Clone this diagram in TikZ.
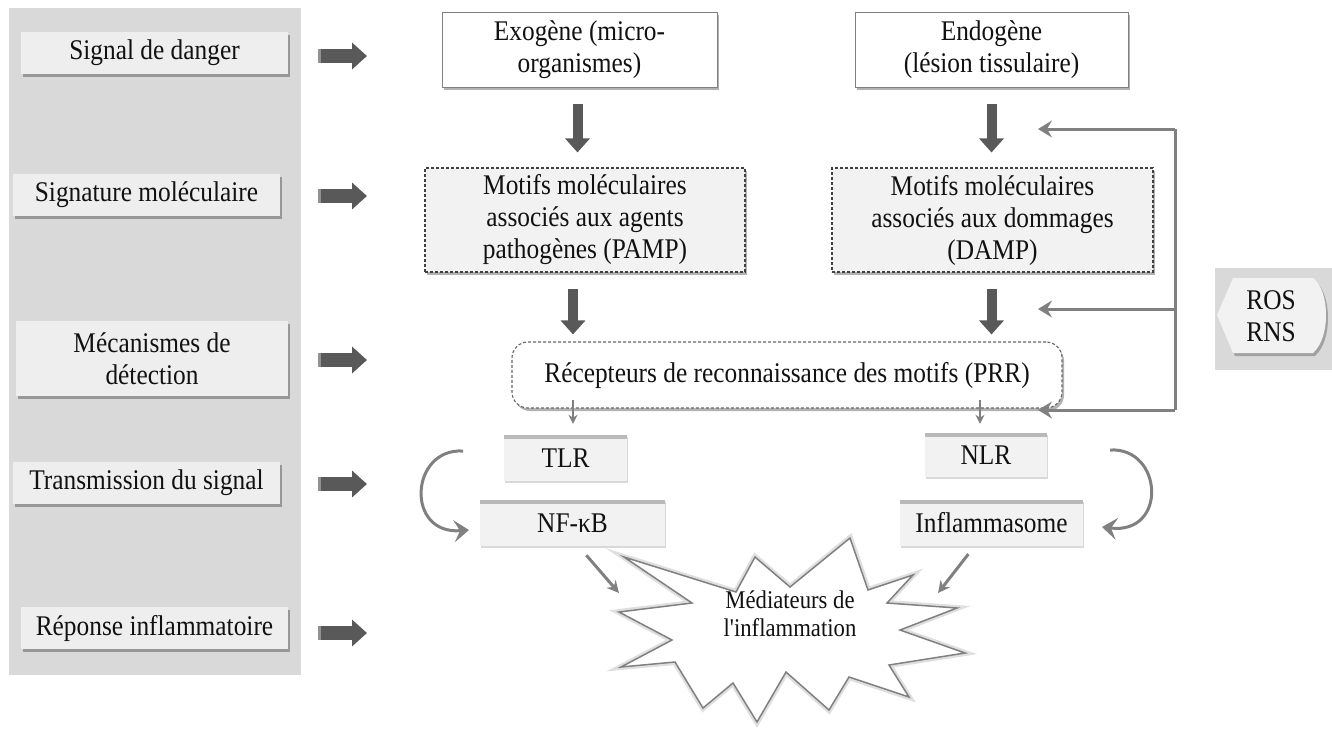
\documentclass[tikz,border=0pt]{standalone}
\usepackage{fontspec}
\setmainfont{Liberation Serif}[FakeStretch=0.89]
\newfontfamily\plainserif{Liberation Serif}[FakeStretch=0.89]
\usetikzlibrary{arrows.meta,shadows}
\definecolor{panel}{HTML}{D9D9D9}
\definecolor{boxfill}{HTML}{F2F2F2}
\definecolor{lboxfill}{HTML}{EEEEEE}
\definecolor{darkarrow}{HTML}{595959}
\definecolor{midgray}{HTML}{808080}
\definecolor{dashcol}{HTML}{404040}
\definecolor{txt}{HTML}{111111}
\begin{document}
\begin{tikzpicture}[x=1pt,y=-1pt,
  every node/.style={font=\fontsize{28.5}{32}\selectfont, text=txt, inner sep=0pt, align=center},
  shadowed/.style={drop shadow={shadow xshift=2pt,shadow yshift=-3pt,opacity=0.3,fill=black}},
  lbox/.style={fill=lboxfill, shadowed, minimum height=42pt},
  topbox/.style={fill=white, draw=midgray, line width=0.9pt, shadowed},
  dbox/.style={fill=boxfill, draw=dashcol, line width=1.1pt, dash pattern=on 3pt off 2pt, shadowed},
  prrbox/.style={fill=white, draw=dashcol!80, line width=1.1pt, dash pattern=on 3pt off 2pt, rounded corners=16pt, shadowed},
  tabbox/.style={fill=boxfill, minimum height=45pt,
     drop shadow={shadow xshift=1pt,shadow yshift=-2pt,opacity=0.15,fill=black},
     path picture={\fill[gray!55] (path picture bounding box.north west) rectangle ([yshift=-4pt]path picture bounding box.north east);}},
  varr/.style={draw=darkarrow, line width=10pt, -{Triangle[length=14pt,width=24pt]}},
  harr/.style={draw=darkarrow, line width=14pt, -{Triangle[length=15pt,width=26pt]}},
  curvarr/.style={draw=midgray, line width=3pt, -{Stealth[length=15pt,width=22pt,inset=6pt]}},
  fbarr/.style={draw=midgray, line width=3pt, -{Stealth[length=14pt,width=17pt,inset=5pt]}},
  thinarr/.style={draw=midgray, line width=1.5pt, -{Stealth[length=9pt,width=9pt]}},
  diagarr/.style={draw=midgray, line width=3pt, -{Stealth[length=12pt,width=12pt]}},
  starshape/.style={fill=white, draw=midgray, line width=1.5pt, line join=miter,
     preaction={draw=gray!25, line width=6pt}}
]
\useasboundingbox (0,0) rectangle (1332,729);

% left panel
\fill[panel] (9,8) rectangle (301,675);
\node[lbox,minimum width=267pt] (l1) at (154.5,53) {Signal de danger};
\node[lbox,minimum width=267pt] (l2) at (146.5,195) {Signature moléculaire};
\node[lbox,minimum width=272pt,minimum height=75pt] (l3) at (152,358.5) {Mécanismes de\\détection};
\node[lbox,minimum width=267pt] (l4) at (146.5,483) {Transmission du signal};
\node[lbox,minimum width=267pt] (l5) at (154.5,628) {Réponse inflammatoire};

% horizontal block arrows
\foreach \yy/\nm in {56/h1,196/h2,360/h3,484/h4,633/h5}{
  \coordinate (\nm s) at (318,\yy);
  \coordinate (\nm e) at (367,\yy);
  \draw[harr] (\nm s) -- (\nm e);
  \fill[white,opacity=0.35] (318,\yy-7) rectangle (321,\yy+7);
}

% top boxes
\node[topbox,minimum width=275pt,minimum height=75pt] (exo) at (579.5,49.5) {Exogène (micro-\\organismes)};
\node[topbox,minimum width=273pt,minimum height=75pt] (endo) at (991.5,49.5) {Endogène\\(lésion tissulaire)};

% molecular pattern boxes
\node[dbox,minimum width=320pt,minimum height=104pt] (pamp) at (585,220) {Motifs moléculaires\\associés aux agents\\pathogènes (PAMP)};
\node[dbox,minimum width=321pt,minimum height=104pt] (damp) at (992.5,220) {Motifs moléculaires\\associés aux dommages\\(DAMP)};

% PRR
\node[prrbox,minimum width=550pt,minimum height=66pt] (prr) at (787,375) {Récepteurs de reconnaissance des motifs (PRR)};

% signalling boxes
\node[tabbox,minimum width=123pt,minimum height=46pt] (tlr) at (565.5,458) {TLR};
\node[tabbox,minimum width=185pt,minimum height=46pt] (nfkb) at (572.5,523) {NF-κB};
\node[tabbox,minimum width=122pt,minimum height=44pt] (nlr) at (986,455) {NLR};
\node[tabbox,minimum width=183pt,minimum height=46pt] (infl) at (991.5,523) {Inflammasome};

% vertical block arrows
\draw[varr,shorten <=17pt,shorten >=15pt] ([xshift=-2pt]exo.south) -- ([xshift=-2pt]exo.south |- pamp.north);
\draw[varr,shorten <=17pt,shorten >=15pt] (endo.south) -- (endo.south |- damp.north);
\draw[varr,shorten <=16pt,shorten >=7pt] ([xshift=-12pt]pamp.south) -- ([xshift=-12pt]pamp.south |- prr.north);
\draw[varr,shorten <=16pt,shorten >=7pt] ([xshift=-1pt]damp.south) -- ([xshift=-1pt]damp.south |- prr.north);

% thin arrows PRR -> TLR / NLR
\draw[thinarr,shorten <=-9pt,shorten >=11pt] ([xshift=7.5pt]tlr.north |- prr.south) -- ([xshift=7.5pt]tlr.north);
\draw[thinarr,shorten <=-9pt,shorten >=9pt] ([xshift=-6pt]nlr.north |- prr.south) -- ([xshift=-6pt]nlr.north);

% curved arrows
\coordinate (c1s) at (463,451);
\coordinate (c1e) at (469,530);
\draw[curvarr] (c1s) .. controls (410,448) and (405,535) .. (c1e);
\coordinate (c2s) at (1110,450);
\coordinate (c2e) at (1102,527);
\draw[curvarr] (c2s) .. controls (1163,447) and (1168,535) .. (c2e);

% starburst
\draw[starshape] (624,557) -- (736,592) -- (755,557) -- (790,587) -- (850,538) -- (868,590) -- (913,575)
  -- (887,603) -- (957,608) -- (900,630) -- (965,653) -- (889,665) -- (909,697) -- (849,677)
  -- (829,710) -- (786,672) -- (757,722) -- (733,683) -- (703,708) -- (675,662) -- (621,667)
  -- (672,640) -- (619,612) -- (692,603) -- cycle;
\node[font=\plainserif\fontsize{25.5}{28}\selectfont] (med) at (790,614) {Médiateurs de\\l'inflammation};

% diagonal arrows to starburst
\coordinate (m1) at (619,593);
\coordinate (m2) at (938,593);
\draw[diagarr,shorten <=12pt] ([xshift=6pt]nfkb.south) -- (m1);
\draw[diagarr,shorten <=10pt] ([xshift=-17pt]infl.south) -- (m2);

% feedback loop
\coordinate (fbT) at (1175,129);
\coordinate (fbM) at (1175,309);
\coordinate (fbB) at (1175,410);
\coordinate (tT) at (1038,129);
\coordinate (tM) at (1038,309);
\coordinate (tB) at (1038,410);
\draw[midgray,line width=3pt] (fbT) -- (fbB);
\draw[fbarr] (fbT) -- (tT);
\draw[fbarr] (fbM) -- (tM);
\draw[fbarr] (fbB) -- (tB);

% ROS / RNS
\fill[panel] (1215,268) rectangle (1332,370);
\fill[black,opacity=0.25,shift={(2pt,-3pt)}] (1233,278) -- (1313,278) .. controls (1322,285) and (1326,300) .. (1326,315)
  .. controls (1326,330) and (1322,345) .. (1313,353) -- (1233,353) -- (1217,315) -- cycle;
\fill[boxfill] (1233,278) -- (1313,278) .. controls (1322,285) and (1326,300) .. (1326,315)
  .. controls (1326,330) and (1322,345) .. (1313,353) -- (1233,353) -- (1217,315) -- cycle;
\node (ros) at (1271,316) {ROS\\RNS};
\end{tikzpicture}
\end{document}
